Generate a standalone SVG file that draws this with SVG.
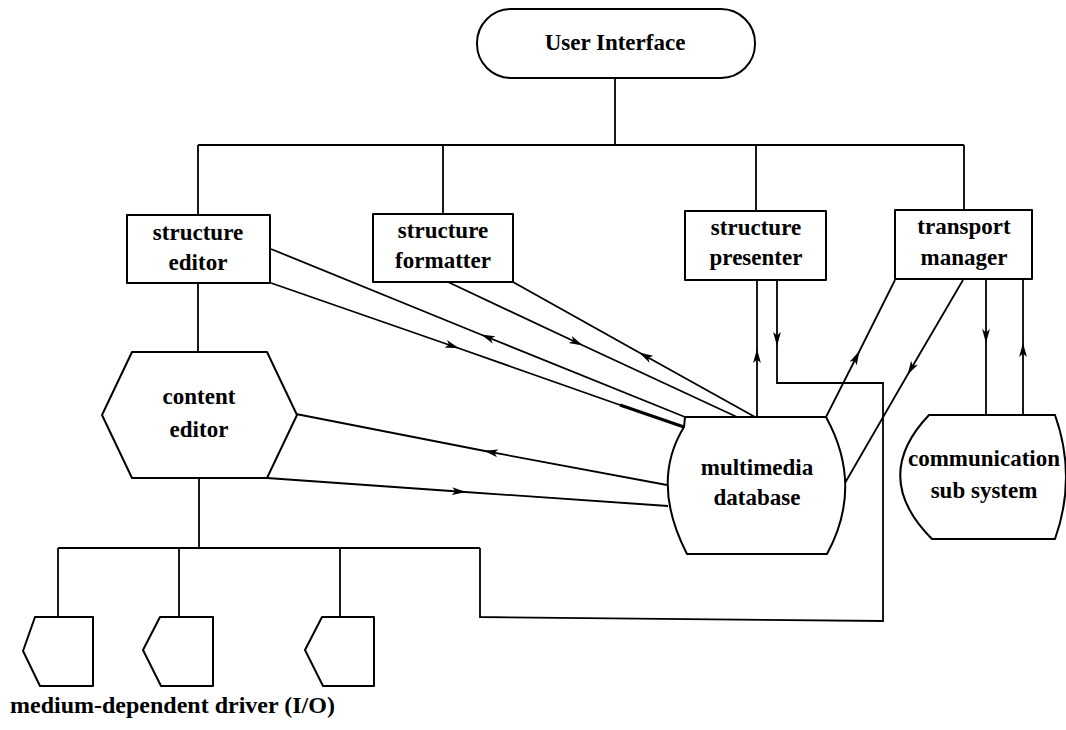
<svg xmlns="http://www.w3.org/2000/svg" width="1066" height="730" viewBox="0 0 1066 730">
  <style>
    .shape { fill: #fff; stroke: #000; stroke-width: 2; stroke-linejoin: round; }
    .wire { fill: none; stroke: #000; stroke-width: 1.8; stroke-linejoin: miter; }
    .flow { fill: none; stroke: #000; stroke-width: 1.8; marker-mid: url(#arr); }
    .lbl { font-family: "Liberation Serif", "Times New Roman", serif; font-weight: bold; font-size: 23px; fill: #000; text-anchor: middle; }
  </style>
  <defs>
    <marker id="arr" viewBox="0 0 14 9" refX="13" refY="4.5" markerWidth="14" markerHeight="9" markerUnits="userSpaceOnUse" orient="auto">
      <path d="M0,0.6 L14,4.5 L0,8.4 L3.5,4.5 Z" fill="#000"/>
    </marker>
  </defs>

  <!-- connectors -->
  <g id="connectors">
    <!-- hierarchy tree from the user interface -->
    <path class="wire" d="M615 78 L615 145 M198 145 L964 145 M198 145 L198 215 M443 145 L443 214 M756 145 L756 211 M964 145 L964 210"/>
    <path class="wire" d="M198 283 L198 352"/>
    <path class="wire" d="M199 478 L199 548 M58 548 L480 548 M58 548 L58 617 M179 548 L179 617 M340 548 L340 617"/>

    <!-- structure editor <-> database -->
    <path class="flow" d="M271 283 L458 348 L620 405"/>
    <path class="wire" d="M620 405 L684 427" style="stroke-width:3.2"/>
    <path class="flow" d="M685 417 L482 335 L271 249"/>
    <!-- structure formatter <-> database -->
    <path class="flow" d="M448 282 L582 345 L737 417"/>
    <path class="flow" d="M755 417 L640 353 L513 282"/>
    <!-- structure presenter <-> database / drivers -->
    <path class="flow" d="M757 417 L757 350 L757 281"/>
    <path class="wire" d="M777 281 L777 345" marker-end="url(#arr)"/>
    <path class="wire" d="M777 345 L777 383 L883 383 L883 621 L480 617 L480 548"/>
    <!-- transport manager <-> database -->
    <path class="flow" d="M826 417 L859 352 L895 280"/>
    <path class="flow" d="M963 280 L908 374 L845 483"/>
    <!-- transport manager <-> communication sub system -->
    <path class="flow" d="M986 280 L986 342 L986 415"/>
    <path class="flow" d="M1023 415 L1023 344 L1023 279"/>
    <!-- content editor <-> database -->
    <path class="flow" d="M667 485 L485 451 L296 414"/>
    <path class="flow" d="M267 478 L465 492 L668 506"/>
  </g>

  <g id="user-interface">
    <rect class="shape" x="477" y="9" width="278" height="69" rx="34" ry="34"/>
    <text class="lbl" x="615" y="50">User Interface</text>
  </g>

  <g id="structure-editor">
    <rect class="shape" x="127" y="215" width="143" height="68"/>
    <text class="lbl" x="198" y="240">structure</text>
    <text class="lbl" x="198" y="270">editor</text>
  </g>

  <g id="structure-formatter">
    <rect class="shape" x="373" y="214" width="140" height="68"/>
    <text class="lbl" x="443" y="238">structure</text>
    <text class="lbl" x="443" y="268">formatter</text>
  </g>

  <g id="structure-presenter">
    <rect class="shape" x="685" y="211" width="141" height="69"/>
    <text class="lbl" x="756" y="235">structure</text>
    <text class="lbl" x="756" y="265">presenter</text>
  </g>

  <g id="transport-manager">
    <rect class="shape" x="895" y="210" width="137" height="69"/>
    <text class="lbl" x="964" y="234">transport</text>
    <text class="lbl" x="964" y="265">manager</text>
  </g>

  <g id="content-editor">
    <polygon class="shape" points="132,352 267,352 297,415 267,478 132,478 102,415"/>
    <text class="lbl" x="199" y="404">content</text>
    <text class="lbl" x="199" y="437">editor</text>
  </g>

  <g id="multimedia-database">
    <path class="shape" d="M685 417 L826 417 Q864 486 827 554 L687 554 Q650 482 684 427 Z"/>
    <text class="lbl" x="757" y="475">multimedia</text>
    <text class="lbl" x="757" y="505">database</text>
  </g>

  <g id="communication-sub-system">
    <path class="shape" d="M929 415 L1055 415 Q1077 477 1055 539 L932 539 Q870 477 929 415 Z"/>
    <text class="lbl" x="984" y="466">communication</text>
    <text class="lbl" x="984" y="498">sub system</text>
  </g>

  <g id="driver-1">
    <polygon class="shape" points="35,617 93,617 93,686 40,686 23,651"/>
  </g>
  <g id="driver-2">
    <polygon class="shape" points="160,617 213,617 213,686 161,686 143,650"/>
  </g>
  <g id="driver-3">
    <polygon class="shape" points="322,617 374,617 374,686 323,686 305,650"/>
  </g>

  <g id="driver-label">
    <text class="lbl" x="10" y="713" style="text-anchor:start; font-size:24px">medium-dependent driver (I/O)</text>
  </g>
</svg>
